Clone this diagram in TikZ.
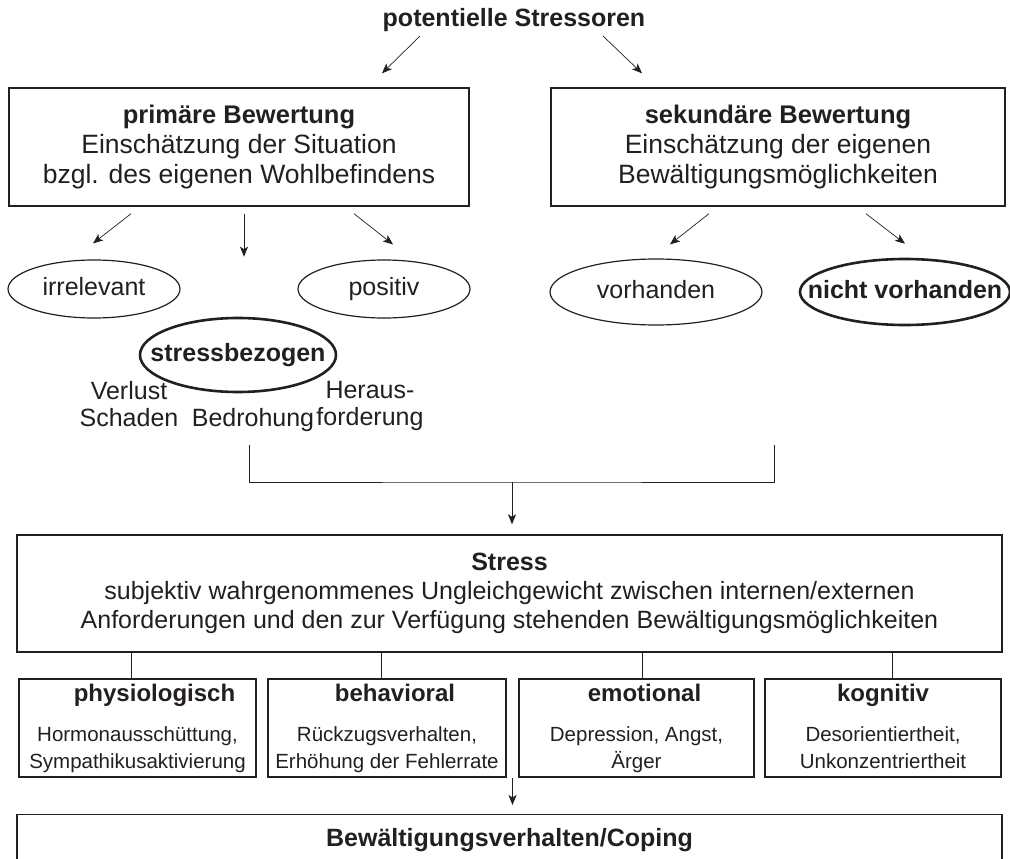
\documentclass[tikz,border=0pt]{standalone}
\usepackage{fontspec}
\setmainfont{Liberation Sans}
\usetikzlibrary{arrows.meta,shapes.geometric,calc}
\definecolor{ink}{RGB}{35,31,32}

\begin{document}
\begin{tikzpicture}[x=1pt,y=-1pt,
    every node/.style={text=ink},
    txt/.style={font=\fontsize{25}{29}\selectfont, align=center},
    box/.style={txt, draw=ink, line width=1.4pt, inner sep=0pt},
    evalbox/.style={box, minimum height=118pt, font=\fontsize{26.5}{30}\selectfont},
    catbox/.style={box, minimum width=237pt, minimum height=98pt, font=\fontsize{20.5}{27}\selectfont},
    oval/.style={txt, ellipse, draw=ink, line width=1.2pt, inner sep=0pt, text height=18pt, text depth=5pt},
    oval2/.style={oval, line width=2.6pt, inner xsep=-25pt, font=\fontsize{25}{29}\selectfont\bfseries},
    arr/.style={draw=ink, line width=0.7pt, -{Stealth[length=10pt,width=8pt,inset=2.5pt]}},
    conn/.style={draw=ink, line width=0.9pt}]
  \useasboundingbox (0,0) rectangle (1010,859);

  % Bewertung
  \node[font=\fontsize{25}{29}\selectfont\bfseries] (stressoren) at (514,20) {potentielle Stressoren};
  \node[evalbox, minimum width=460pt] (prim) at (239,147)
    {{\fontsize{25.5}{30}\selectfont\bfseries primäre Bewertung}\\Einschätzung der Situation\\bzgl. des eigenen Wohlbefindens};
  \node[evalbox, minimum width=454pt] (sek) at (778,147)
    {{\fontsize{25.5}{30}\selectfont\bfseries sekundäre Bewertung}\\Einschätzung der eigenen\\Bewältigungsmöglichkeiten};

  \draw[arr] ($(stressoren)+(-94,16)$) -- ($(prim.north)+(143,-14)$);
  \draw[arr] ($(stressoren)+(89,16)$) -- ($(sek.north)+(-136,-14)$);

  \node[oval, minimum width=172pt, minimum height=58pt] (irrel) at (94,289) {irrelevant};
  \node[oval, minimum width=172pt, minimum height=58pt] (posit) at (384,289) {positiv};
  \node[oval2, minimum width=196pt, minimum height=74pt] (stressbez) at (238,355) {stressbezogen};
  \node[oval, minimum width=212pt, minimum height=66pt] (vorh) at (656,292) {vorhanden};
  \node[oval2, minimum width=210pt, minimum height=66pt] (nvorh) at (905,292) {nicht vorhanden};

  \draw[arr] ($(prim.south)+(-108,7)$) -- ($(irrel.north)+(-1,-16)$);
  \draw[arr] ($(prim.south)+(5,7)$) -- ($(stressbez.north)+(6,-60)$);
  \draw[arr] ($(prim.south)+(115,7)$) -- ($(posit.north)+(9,-15)$);
  \draw[arr] ($(sek.south)+(-69,7)$) -- ($(vorh.north)+(14,-14)$);
  \draw[arr] ($(sek.south)+(88,7)$) -- ($(nvorh.north)+(0,-14)$);

  \node[txt, font=\fontsize{25}{27}\selectfont] (verlust) at (129,404) {Verlust\\Schaden};
  \node[txt] (bedrohung) at (253,420) {Bedrohung};
  \node[txt, font=\fontsize{25}{27}\selectfont] (heraus) at (370,406) {Heraus-\\forderung};

  % Stress
  \node[box, minimum width=985pt, minimum height=117pt] (stress) at (509.5,593.5)
    {\textbf{Stress}\\subjektiv wahrgenommenes Ungleichgewicht zwischen internen/externen\\Anforderungen und den zur Verfügung stehenden Bewältigungsmöglichkeiten};

  \coordinate (bl) at (249,445);
  \coordinate (br) at (774,445);
  \coordinate (join) at (512,482);
  \draw[conn] (bl) |- (join) -| (br);
  \draw[arr] (join) -- ($(join |- stress.north)+(0,-10)$);

  % Reaktionsebenen
  \node[catbox] (phys) at (137.5,728)
    {\hspace*{34pt}{\fontsize{24}{24}\selectfont\bfseries physiologisch}\\[13pt]Hormonausschüttung,\\Sympathikusaktivierung};
  \node[catbox, minimum width=238pt] (beh) at (387,728)
    {\hspace*{16pt}{\fontsize{24}{24}\selectfont\bfseries behavioral}\\[13pt]Rückzugsverhalten,\\Erhöhung der Fehlerrate};
  \node[catbox, minimum width=235pt] (emo) at (636.5,728)
    {\hspace*{16pt}{\fontsize{24}{24}\selectfont\bfseries emotional}\\[13pt]Depression, Angst,\\Ärger};
  \node[catbox, minimum width=236pt] (kog) at (883,728)
    {{\fontsize{24}{24}\selectfont\bfseries kognitiv}\\[13pt]Desorientiertheit,\\Unkonzentriertheit\vphantom{g}};

  \draw[conn] ($(phys.north)+(-6,0)$) coordinate (c1) -- (c1 |- stress.south);
  \draw[conn] ($(beh.north)+(-6,0)$) coordinate (c2) -- (c2 |- stress.south);
  \draw[conn] ($(emo.north)+(6,0)$) coordinate (c3) -- (c3 |- stress.south);
  \draw[conn] ($(kog.north)+(9,0)$) coordinate (c4) -- (c4 |- stress.south);

  % Coping
  \node[box, anchor=north, minimum width=985pt, inner ysep=14pt, font=\fontsize{25}{29}\selectfont\bfseries] (coping) at (509.5,814)
    {Bewältigungsverhalten/Coping};

  \coordinate (gap) at ($(beh.south east)!.5!(emo.south west)$);
  \draw[arr] (gap) -- ($(gap |- coping.north)+(0,-9)$);
\end{tikzpicture}
\end{document}
